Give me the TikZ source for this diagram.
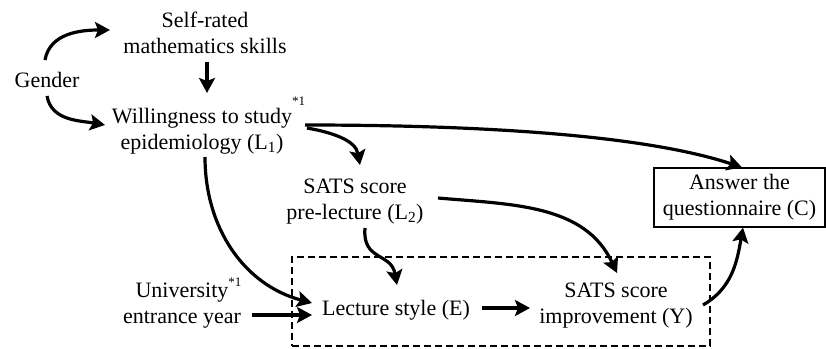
\documentclass[tikz,border=0pt]{standalone}
\usepackage{fontspec}
\setmainfont{Liberation Serif}
\usetikzlibrary{arrows.meta,calc}
\newcommand\mysup[2]{\rlap{\raisebox{#1}{\fontsize{13}{13}\selectfont #2}}}
\begin{document}
\begin{tikzpicture}[x=1pt,y=1pt,
  lbl/.style={font=\fontsize{22}{26}\selectfont, align=center, inner sep=0pt, text height=16pt, text depth=6pt},
  lbltwo/.style={lbl, text height=42pt},
  arr/.style={line width=3.2pt, -{Stealth[length=15pt,width=16pt,inset=3pt]}},
  ansbox/.style={lbltwo, draw, line width=1.2pt, minimum width=171pt, minimum height=59pt},
  grpbox/.style={draw, line width=2pt, dash pattern=on 7pt off 4pt, minimum width=418pt, minimum height=89pt, inner sep=0pt}]
\useasboundingbox (0,0) rectangle (826,-348);
\node[grpbox] (grp) at (501,-301.5) {};
\node[lbl] (gender) at (47,-82) {Gender};
\node[lbltwo] (self) at (205,-35) {Self-rated\\mathematics skills};
\node[lbltwo] (will) at (202,-131) {Willingness to study\mysup{18pt}{*1}\\epidemiology (L\textsubscript{1})};
\node[lbltwo] (pre) at (355,-201) {SATS score\\pre-lecture (L\textsubscript{2})};
\node[ansbox] (ans) at (739.5,-197.5) {Answer the\\questionnaire (C)};
\node[lbltwo] (univ) at (182,-305.5) {University\mysup{11pt}{*1}\\entrance year};
\node[lbl] (lect) at (396,-310) {Lecture style (E)};
\node[lbltwo] (impr) at (616,-305.5) {SATS score\\improvement (Y)};
% connectors
\draw[arr] ($(gender)+(-2,22)$) to[out=80,in=180] ($(self)+(-95,5)$);
\draw[arr] ($(gender)+(0,-14)$) to[out=-80,in=170] ($(will)+(-97,6)$);
\draw[arr] ($(self)+(2,-27)$) -- ($(will)+(5,38)$);
\draw[arr] ($(will)+(103,6)$) .. controls ($(will)+(300,6)$) and ($(ans.north)+(-88,30)$) .. ($(ans.north)+(2.5,0)$);
\draw[arr] ($(will)+(105,3)$) to[out=-10,in=100] ($(pre)+(5,36)$);
\draw[arr] ($(will)+(3,-26)$) to[out=-90,in=165] ($(lect)+(-84,7)$);
\draw[arr] ($(univ)+(70,-9.5)$) -- ($(lect)+(-84,-5)$);
\draw[arr] ($(pre)+(10,-27)$) to[out=-95,in=100,looseness=1.3] ($(lect)+(1,25)$);
\draw[arr] ($(pre)+(83,3)$) to[out=-5,in=115] ($(impr)+(1,32.5)$);
\draw[arr] ($(lect)+(86,2)$) -- ($(impr)+(-86,-2.5)$);
\draw[arr] ($(impr)+(87,0.5)$) to[out=30,in=-100] ($(ans.south)+(3.5,0)$);
\end{tikzpicture}
\end{document}
